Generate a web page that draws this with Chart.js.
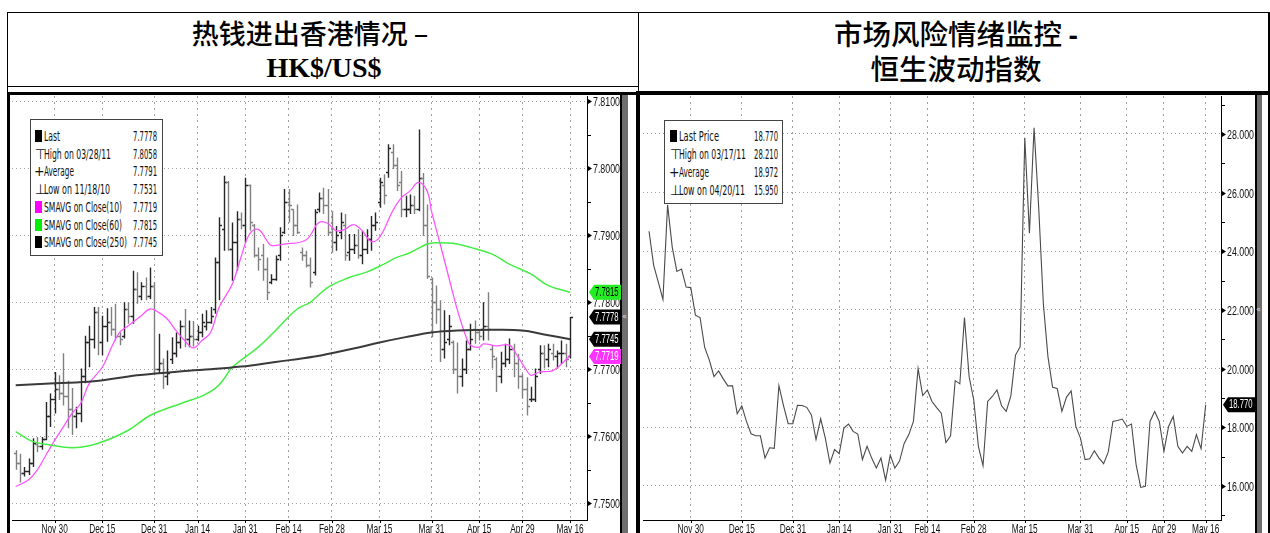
<!DOCTYPE html>
<html>
<head>
<meta charset="utf-8">
<script src="https://cdn.jsdelivr.net/npm/chart.js@4.4.0/dist/chart.umd.min.js"></script>
<style>
  body { margin:0; width:1270px; height:533px; overflow:hidden; background:#fff; position:relative;
         font-family:'Liberation Sans Narrow','DejaVu Sans Condensed','Liberation Sans',sans-serif; }
  .ln { position:absolute; background:#000; }
  .title { position:absolute; text-align:center; color:#000; white-space:nowrap; }
  .cjk { font-family:'Noto Sans CJK SC',sans-serif; font-size:27px; font-weight:500; line-height:32px; }
  .box { position:absolute; background:#fff; border:1px solid #444; }
  .row { position:absolute; left:0; right:0; height:18px; line-height:18px; font-size:14px; color:#111; }
  .row span { position:absolute; white-space:nowrap; display:inline-block; }
  .lab { transform-origin:left center; }
  .val { transform-origin:right center; }
  .sq { position:absolute; top:3px; width:7px; height:12px; }
  .chartbox { position:absolute; }
</style>
</head>
<body>
<!-- frame -->
<div class="ln" style="left:7px;top:12px;width:1263px;height:1px"></div>
<div class="ln" style="left:7px;top:12px;width:1px;height:80px"></div>
<div class="ln" style="left:7px;top:86px;width:631px;height:1px"></div>
<div class="ln" style="left:7px;top:92px;width:631px;height:3px"></div>
<div class="ln" style="left:7px;top:92px;width:3px;height:441px"></div>
<div class="ln" style="left:638px;top:12px;width:1px;height:80px"></div>
<div class="ln" style="left:636px;top:91px;width:4px;height:442px"></div>
<div class="ln" style="left:640px;top:91px;width:630px;height:4px"></div>
<div class="ln" style="left:1268px;top:12px;width:2px;height:521px"></div>
<div class="ln" style="left:620px;top:95px;width:2px;height:438px"></div>
<div class="ln" style="left:622px;top:95px;width:6px;height:438px;background:#6e6e6e"></div>
<div class="ln" style="left:1255px;top:95px;width:2px;height:438px"></div>
<div class="ln" style="left:1257px;top:95px;width:5px;height:438px;background:#6e6e6e"></div>
<div style="position:absolute;left:622px;top:311px;font-size:9px;color:#ddd">«</div>
<div style="position:absolute;left:1256px;top:304px;font-size:9px;color:#ddd">«</div>

<!-- titles -->
<div class="title cjk" style="left:7px;width:606px;top:17px">热钱进出香港情况 –</div>
<div class="title" style="left:7px;width:634px;top:52px;line-height:32px;font:bold 28px 'Liberation Serif',serif">HK$/US$</div>
<div class="title cjk" style="left:640px;width:632px;top:17px;font-size:28.5px">市场风险情绪监控 <b style="font-family:'Liberation Sans',sans-serif">-</b></div>
<div class="title cjk" style="left:640px;width:632px;top:52px;font-size:28.5px">恒生波动指数</div>

<!-- charts -->
<div class="chartbox" style="left:10px;top:95px;width:611px;height:445px"><canvas id="fx"></canvas></div>
<div class="chartbox" style="left:641px;top:95px;width:614px;height:445px"><canvas id="vhsi"></canvas></div>

<!-- legends -->
<div class="box" style="left:30px;top:119px;width:131px;height:135px">
  <div class="row" style="top:7px"><i class="sq" style="left:4px;background:#000"></i><span class="lab" style="left:13px" data-w="16">Last</span><span class="val" style="right:5px" data-w="24">7.7778</span></div>
  <div class="row" style="top:24.7px"><span style="left:4px">⊤</span><span class="lab" style="left:13px" data-w="67">High on 03/28/11</span><span class="val" style="right:5px" data-w="24">7.8058</span></div>
  <div class="row" style="top:42.4px"><span style="left:3px">+</span><span class="lab" style="left:13px" data-w="30">Average</span><span class="val" style="right:5px" data-w="24">7.7791</span></div>
  <div class="row" style="top:60.1px"><span style="left:4px">⊥</span><span class="lab" style="left:13px" data-w="66">Low on 11/18/10</span><span class="val" style="right:5px" data-w="24">7.7531</span></div>
  <div class="row" style="top:77.8px"><i class="sq" style="left:4px;background:#ff00ff"></i><span class="lab" style="left:13px" data-w="78">SMAVG on Close(10)</span><span class="val" style="right:5px" data-w="24">7.7719</span></div>
  <div class="row" style="top:95.5px"><i class="sq" style="left:4px;background:#00ee00"></i><span class="lab" style="left:13px" data-w="78">SMAVG on Close(60)</span><span class="val" style="right:5px" data-w="24">7.7815</span></div>
  <div class="row" style="top:113.2px"><i class="sq" style="left:4px;background:#000"></i><span class="lab" style="left:13px" data-w="83">SMAVG on Close(250)</span><span class="val" style="right:5px" data-w="24">7.7745</span></div>
</div>
<div class="box" style="left:664px;top:120px;width:117px;height:82px">
  <div class="row" style="top:6px"><i class="sq" style="left:5px;background:#000"></i><span class="lab" style="left:14px" data-w="40">Last Price</span><span class="val" style="right:4px" data-w="24">18.770</span></div>
  <div class="row" style="top:24px"><span style="left:5px">⊤</span><span class="lab" style="left:14px" data-w="67">High on 03/17/11</span><span class="val" style="right:4px" data-w="24">28.210</span></div>
  <div class="row" style="top:42px"><span style="left:4px">+</span><span class="lab" style="left:14px" data-w="30">Average</span><span class="val" style="right:4px" data-w="24">18.972</span></div>
  <div class="row" style="top:60px"><span style="left:5px">⊥</span><span class="lab" style="left:14px" data-w="66">Low on 04/20/11</span><span class="val" style="right:4px" data-w="24">15.950</span></div>
</div>

<script>
// ---- HK$/US$ daily bars (index 0 = 11/17/10 ... 128 = 05/16/11)
const fxHigh = [7.7579,7.7574,7.7554,7.7567,7.7597,7.7599,7.7599,7.7651,7.7664,7.7696,
  7.7691,7.7724,7.7683,7.7672,7.7644,7.7701,7.7750,7.7765,7.7793,7.7793,
  7.7780,7.7791,7.7793,7.7798,7.7755,7.7800,7.7800,7.7847,7.7845,7.7830,
  7.7837,7.7852,7.7830,7.7753,7.7716,7.7728,7.7748,7.7755,7.7773,7.7790,
  7.7773,7.7772,7.7765,7.7783,7.7788,7.7793,7.7867,7.7927,7.7989,7.7981,
  7.7919,7.7936,7.7934,7.7986,7.7976,7.7917,7.7882,7.7887,7.7867,7.7842,
  7.7870,7.7912,7.7969,7.7969,7.7939,7.7946,7.7882,7.7877,7.7867,7.7939,
  7.7964,7.7971,7.7969,7.7936,7.7914,7.7934,7.7932,7.7902,7.7902,7.7909,
  7.7907,7.7909,7.7929,7.7934,7.7986,7.7991,7.8036,7.8036,7.8016,7.7996,
  7.7959,7.7961,7.7959,7.8058,7.7993,7.7946,7.7837,7.7825,7.7803,7.7788,
  7.7781,7.7743,7.7740,7.7716,7.7743,7.7768,7.7773,7.7760,7.7800,7.7815,
  7.7736,7.7718,7.7726,7.7738,7.7746,7.7738,7.7723,7.7693,7.7688,7.7674,
  7.7701,7.7736,7.7736,7.7738,7.7738,7.7728,7.7743,7.7738,7.7778];
const fxLow = [7.7550,7.7531,7.7540,7.7542,7.7554,7.7576,7.7580,7.7594,7.7614,7.7634,
  7.7654,7.7646,7.7612,7.7602,7.7612,7.7621,7.7679,7.7703,7.7731,7.7721,
  7.7721,7.7741,7.7750,7.7743,7.7736,7.7746,7.7768,7.7768,7.7798,7.7803,
  7.7803,7.7805,7.7691,7.7693,7.7671,7.7676,7.7708,7.7718,7.7731,7.7733,
  7.7733,7.7734,7.7742,7.7748,7.7758,7.7768,7.7783,7.7803,7.7877,7.7877,
  7.7832,7.7847,7.7909,7.7889,7.7907,7.7867,7.7847,7.7832,7.7803,7.7827,
  7.7832,7.7862,7.7902,7.7919,7.7899,7.7902,7.7862,7.7852,7.7822,7.7840,
  7.7934,7.7932,7.7899,7.7874,7.7877,7.7894,7.7862,7.7862,7.7872,7.7865,
  7.7857,7.7872,7.7877,7.7907,7.7941,7.7946,7.7986,7.7999,7.7966,7.7927,
  7.7927,7.7932,7.7932,7.7936,7.7899,7.7835,7.7748,7.7768,7.7711,7.7716,
  7.7736,7.7693,7.7664,7.7674,7.7693,7.7728,7.7738,7.7743,7.7743,7.7743,
  7.7701,7.7666,7.7679,7.7703,7.7708,7.7688,7.7671,7.7656,7.7631,7.7651,
  7.7651,7.7693,7.7701,7.7703,7.7713,7.7701,7.7708,7.7703,7.7716];
const fxOpen = [7.7575,7.7560,7.7545,7.7548,7.7560,7.7588,7.7585,7.7596,7.7630,7.7655,
  7.7670,7.7665,7.7660,7.7640,7.7630,7.7635,7.7690,7.7740,7.7745,7.7785,
  7.7740,7.7765,7.7770,7.7760,7.7750,7.7750,7.7790,7.7780,7.7820,7.7810,
  7.7825,7.7810,7.7825,7.7700,7.7710,7.7690,7.7715,7.7725,7.7740,7.7765,
  7.7745,7.7750,7.7745,7.7755,7.7765,7.7770,7.7790,7.7860,7.7910,7.7980,
  7.7880,7.7890,7.7925,7.7915,7.7975,7.7915,7.7870,7.7870,7.7850,7.7830,
  7.7835,7.7870,7.7905,7.7950,7.7940,7.7915,7.7875,7.7870,7.7855,7.7845,
  7.7940,7.7955,7.7945,7.7905,7.7890,7.7905,7.7915,7.7875,7.7880,7.7885,
  7.7870,7.7880,7.7895,7.7915,7.7950,7.7975,7.7995,7.8025,7.8005,7.7980,
  7.7940,7.7940,7.7945,7.7940,7.7985,7.7915,7.7835,7.7800,7.7790,7.7730,
  7.7745,7.7740,7.7700,7.7690,7.7700,7.7730,7.7760,7.7755,7.7760,7.7765,
  7.7730,7.7715,7.7690,7.7710,7.7715,7.7730,7.7710,7.7690,7.7670,7.7655,
  7.7655,7.7700,7.7725,7.7715,7.7725,7.7720,7.7725,7.7725,7.7720];
const fxClose = [7.7560,7.7545,7.7548,7.7560,7.7590,7.7585,7.7596,7.7630,7.7655,7.7670,
  7.7665,7.7660,7.7640,7.7630,7.7635,7.7690,7.7740,7.7745,7.7785,7.7740,
  7.7765,7.7770,7.7760,7.7750,7.7745,7.7790,7.7780,7.7820,7.7810,7.7825,
  7.7810,7.7825,7.7700,7.7710,7.7690,7.7695,7.7725,7.7740,7.7765,7.7745,
  7.7750,7.7745,7.7755,7.7770,7.7770,7.7780,7.7860,7.7915,7.7980,7.7880,
  7.7890,7.7925,7.7915,7.7975,7.7920,7.7870,7.7865,7.7850,7.7815,7.7835,
  7.7865,7.7900,7.7950,7.7945,7.7915,7.7905,7.7870,7.7855,7.7830,7.7935,
  7.7955,7.7945,7.7905,7.7890,7.7900,7.7920,7.7870,7.7880,7.7885,7.7870,
  7.7880,7.7895,7.7915,7.7920,7.7980,7.7960,7.8030,7.8005,7.7975,7.7940,
  7.7940,7.7945,7.7940,7.7985,7.7915,7.7840,7.7800,7.7790,7.7730,7.7740,
  7.7765,7.7700,7.7690,7.7700,7.7730,7.7745,7.7755,7.7750,7.7765,7.7760,
  7.7720,7.7690,7.7710,7.7715,7.7730,7.7710,7.7690,7.7670,7.7645,7.7655,
  7.7690,7.7725,7.7715,7.7730,7.7720,7.7725,7.7725,7.7715,7.7778];

// moving averages: bar index + value
const ma10Idx = [0,3,5,7,9,11,13,15,17,20,22,24,26,29,31,33,35,37,39,41,43,45,47,50,52,54,56,58,59,62,67,70,72,74,76,78,80,82,84,87,89,91,93,95,96,98,100,102,104,105,107,108,111,114,116,118,119,121,124,126,128];
const ma10Val = [7.7525,7.7535,7.7550,7.7572,7.7594,7.7614,7.7634,7.7649,7.7679,7.7703,7.7731,7.7755,7.7765,7.7780,7.7790,7.7785,7.7775,7.7758,7.7743,7.7732,7.7743,7.7755,7.7793,7.7827,7.7867,7.7902,7.7909,7.7892,7.7885,7.7887,7.7893,7.7919,7.7918,7.7907,7.7909,7.7916,7.7907,7.7891,7.7897,7.7936,7.7956,7.7966,7.7979,7.7966,7.7936,7.7887,7.7837,7.7788,7.7748,7.7736,7.7733,7.7738,7.7735,7.7736,7.7718,7.7698,7.7691,7.7696,7.7698,7.7708,7.7721];
const ma60Idx = [0,4,8,13,17,21,26,31,36,40,43,46,48,50,56,60,65,68,72,77,81,85,88,91,95,97,101,105,110,114,119,123,128];
const ma60Val = [7.7607,7.7592,7.7587,7.7583,7.7586,7.7594,7.7609,7.7631,7.7644,7.7653,7.7660,7.7671,7.7685,7.7703,7.7733,7.7758,7.7790,7.7800,7.7822,7.7837,7.7845,7.7857,7.7867,7.7874,7.7887,7.7889,7.7888,7.7882,7.7872,7.7857,7.7842,7.7825,7.7815];
const ma250Idx = [0,9,18,28,33,40,45,52,60,69,78,84,90,96,102,110,117,122,128];
const ma250Val = [7.7676,7.7679,7.7682,7.7691,7.7694,7.7698,7.7700,7.7704,7.7711,7.7719,7.7731,7.7740,7.7748,7.7755,7.7758,7.7759,7.7758,7.7752,7.7745];

const fxTickIdx = [9,20,32,42,53,63,73,84,96,107,117,128];
const dateLabels = ['Nov 30','Dec 15','Dec 31','Jan 14','Jan 31','Feb 14','Feb 28','Mar 15','Mar 31','Apr 15','Apr 29','May 16'];
const fxMajor = [7.75,7.76,7.77,7.78,7.79,7.80,7.81];
const fxMinor = [7.755,7.765,7.775,7.785,7.795,7.805];

// ---- HSI volatility index (HK trading days, 0 = 11/17/10 ... 120 = 05/16/11)
const vhsi = [24.68,23.52,22.95,22.36,25.58,24.14,23.31,23.39,22.78,22.76,
  21.82,21.74,20.72,20.29,19.73,19.92,19.65,19.41,19.41,18.46,
  18.73,18.20,17.78,17.71,17.71,16.95,17.30,17.28,19.42,18.73,
  18.12,18.12,18.75,18.74,18.68,18.42,17.58,18.29,17.63,16.78,
  17.24,17.10,17.97,18.11,17.86,17.77,16.90,17.35,16.95,16.61,
  16.95,16.20,17.05,16.61,16.85,17.45,17.75,18.20,20.00,19.08,
  19.27,18.88,18.67,18.48,17.48,17.71,19.59,19.48,21.74,19.73,
  18.93,17.35,16.69,18.88,19.05,19.27,18.73,18.54,19.07,20.46,
  20.74,27.87,24.61,28.21,25.50,22.22,20.40,19.36,19.32,18.54,
  19.03,19.24,18.03,17.63,16.90,16.93,17.20,16.95,16.76,17.16,
  18.20,18.23,18.28,18.03,18.11,16.73,15.95,15.99,18.20,18.54,
  18.20,17.18,18.03,18.37,17.35,17.12,17.35,17.18,17.75,17.27,18.77];
const vhsiTickIdx = [9,20,31,41,52,60,70,81,93,103,111,120];
const vhsiMajor = [16,18,20,22,24,26,28];
const vhsiMinor = [15,17,19,21,23,25,27,29];

const LABEL_FONT = "13px 'Liberation Sans',sans-serif";
const near = (arr, v) => arr.some(a => Math.abs(a - v) < 1e-7);

// draw text squeezed horizontally (Bloomberg-style narrow lettering)
function narrowText(ctx, text, x, y, sx, align, base) {
  ctx.save();
  ctx.translate(x, y);
  ctx.scale(sx, 1);
  ctx.textAlign = align;
  ctx.textBaseline = base;
  ctx.fillText(text, 0, 0);
  ctx.restore();
}

// OHLC bars drawn through the chart's scales
const ohlcPlugin = {
  id: 'ohlc',
  beforeDatasetsDraw(chart, args, opts) {
    if (!opts.on) return;
    const { ctx, chartArea: a, scales: { x, y } } = chart;
    ctx.save();
    ctx.beginPath(); ctx.rect(a.left, a.top, a.width, a.height); ctx.clip();
    ctx.lineWidth = 1.4;
    fxHigh.forEach((h, i) => {
      const px = Math.round(x.getPixelForValue(i)) + 0.5;
      ctx.strokeStyle = fxClose[i] >= fxOpen[i] ? '#262626' : '#808080';
      ctx.beginPath();
      ctx.moveTo(px, y.getPixelForValue(h)); ctx.lineTo(px, y.getPixelForValue(fxLow[i]));
      const yo = Math.round(y.getPixelForValue(fxOpen[i])) + 0.5;
      const yc = Math.round(y.getPixelForValue(fxClose[i])) + 0.5;
      ctx.moveTo(px - 2.5, yo); ctx.lineTo(px, yo);
      ctx.moveTo(px, yc); ctx.lineTo(px + 2.5, yc);
      ctx.stroke();
    });
    ctx.restore();
  }
};

// axis labels, arrow marks on the value axis and the coloured last-value tags
const axisPlugin = {
  id: 'axmarks',
  afterDraw(chart, args, opts) {
    const { ctx, chartArea: a, scales: { x, y } } = chart;
    ctx.save();
    ctx.fillStyle = '#000'; ctx.strokeStyle = '#000'; ctx.lineWidth = 1;
    ctx.font = LABEL_FONT;
    y.ticks.forEach(t => {
      const py = Math.round(y.getPixelForValue(t.value)) + 0.5;
      if (near(opts.major, t.value)) {
        ctx.beginPath(); ctx.moveTo(a.right + 1, py - 2.5); ctx.lineTo(a.right + 5, py); ctx.lineTo(a.right + 1, py + 2.5); ctx.fill();
        ctx.fillStyle = '#111';
        narrowText(ctx, t.value.toFixed(opts.dp), a.right + 6, py + 0.5, 0.68, 'left', 'middle');
        ctx.fillStyle = '#000';
      } else {
        ctx.beginPath(); ctx.moveTo(a.right, py); ctx.lineTo(a.right + 4, py); ctx.stroke();
      }
    });
    ctx.fillStyle = '#111';
    x.ticks.forEach((t, i) => {
      const px = x.getPixelForValue(t.value);
      ctx.beginPath(); ctx.moveTo(Math.round(px) + 0.5, a.bottom); ctx.lineTo(Math.round(px) + 0.5, a.bottom + 3); ctx.stroke();
      narrowText(ctx, dateLabels[i], px, a.bottom + 3, 0.64, 'center', 'top');
    });
    opts.tags.forEach(t => {
      const py = y.getPixelForValue(t.value);
      const x0 = a.right + 2, w = 32, h = 15;
      ctx.beginPath();
      ctx.moveTo(x0, py); ctx.lineTo(x0 + 5, py - h / 2); ctx.lineTo(x0 + w, py - h / 2);
      ctx.lineTo(x0 + w, py + h / 2); ctx.lineTo(x0 + 5, py + h / 2); ctx.closePath();
      ctx.fillStyle = t.bg; ctx.fill();
      ctx.fillStyle = t.fg;
      ctx.font = "12px 'Liberation Sans',sans-serif";
      narrowText(ctx, t.value.toFixed(t.dp), x0 + 6, py + 0.5, 0.64, 'left', 'middle');
    });
    ctx.restore();
  }
};

function baseOptions(cfg) {
  return {
    responsive: true, maintainAspectRatio: false, animation: false,
    layout: { padding: { left: 2, top: 1, right: 0, bottom: 0 } },
    plugins: { legend: { display: false }, tooltip: { enabled: false },
      ohlc: { on: cfg.ohlc }, axmarks: { major: cfg.major, tags: cfg.tags, dp: cfg.dp } },
    scales: {
      x: {
        type: 'linear', min: cfg.xmin, max: cfg.xmax,
        afterBuildTicks: s => { s.ticks = cfg.xticks.map(v => ({ value: v })); },
        afterFit: s => { s.height = 20; },
        grid: { color: '#a0a0a0', lineWidth: 1, drawTicks: false },
        border: { display: true, color: '#000', width: 1, dash: [2, 4] },
        ticks: { display: false, autoSkip: false }
      },
      y: {
        position: 'right', min: cfg.ymin, max: cfg.ymax,
        afterBuildTicks: s => { s.ticks = cfg.major.concat(cfg.minor).sort((p, q) => p - q).map(v => ({ value: v })); },
        afterFit: s => { s.width = 34; },
        grid: { color: c => near(cfg.major, c.tick.value) ? '#a0a0a0' : 'rgba(0,0,0,0)', drawTicks: false },
        border: { display: true, color: '#000', width: 1, dash: [1, 3] },
        ticks: { display: false }
      }
    }
  };
}

const pts = (xs, ys) => xs.map((x, k) => ({ x, y: ys[k] }));

new Chart(document.getElementById('fx'), {
  type: 'line',
  data: { datasets: [
    { data: pts(ma250Idx, ma250Val), borderColor: '#3a3a3a', borderWidth: 2, pointRadius: 0, tension: 0.4 },
    { data: pts(ma60Idx, ma60Val), borderColor: '#44ee44', borderWidth: 1.5, pointRadius: 0, tension: 0.4 },
    { data: pts(ma10Idx, ma10Val), borderColor: '#ff55ff', borderWidth: 1.3, pointRadius: 0, tension: 0.4 }
  ]},
  options: baseOptions({
    ohlc: true, xmin: -0.85, xmax: 131.9, xticks: fxTickIdx,
    ymin: 7.7475, ymax: 7.8108, major: fxMajor, minor: fxMinor, dp: 4,
    tags: [
      { value: 7.7815, dp: 4, bg: '#22ee22', fg: '#000' },
      { value: 7.7778, dp: 4, bg: '#000', fg: '#fff' },
      { value: 7.7745, dp: 4, bg: '#000', fg: '#fff' },
      { value: 7.7719, dp: 4, bg: '#ff33ff', fg: '#fff' }
    ]
  }),
  plugins: [ohlcPlugin, axisPlugin]
});

new Chart(document.getElementById('vhsi'), {
  type: 'line',
  data: { datasets: [
    { data: vhsi.map((v, i) => ({ x: i, y: v })), borderColor: '#4a4a4a', borderWidth: 1.1, pointRadius: 0, tension: 0 }
  ]},
  options: baseOptions({
    ohlc: false, xmin: -1.3, xmax: 123.3, xticks: vhsiTickIdx,
    ymin: 14.84, ymax: 29.29, major: vhsiMajor, minor: vhsiMinor, dp: 3,
    tags: [ { value: 18.77, dp: 3, bg: '#000', fg: '#fff' } ]
  }),
  plugins: [ohlcPlugin, axisPlugin]
});

// squeeze legend text to the widths seen in the picture
function fitText() {
  document.querySelectorAll('[data-w]').forEach(el => {
    el.style.transform = 'none';
    const w = el.getBoundingClientRect().width;
    if (w > 0) el.style.transform = 'scaleX(' + (el.dataset.w / w) + ')';
  });
}
fitText();
document.fonts.ready.then(fitText);
</script>
</body>
</html>
